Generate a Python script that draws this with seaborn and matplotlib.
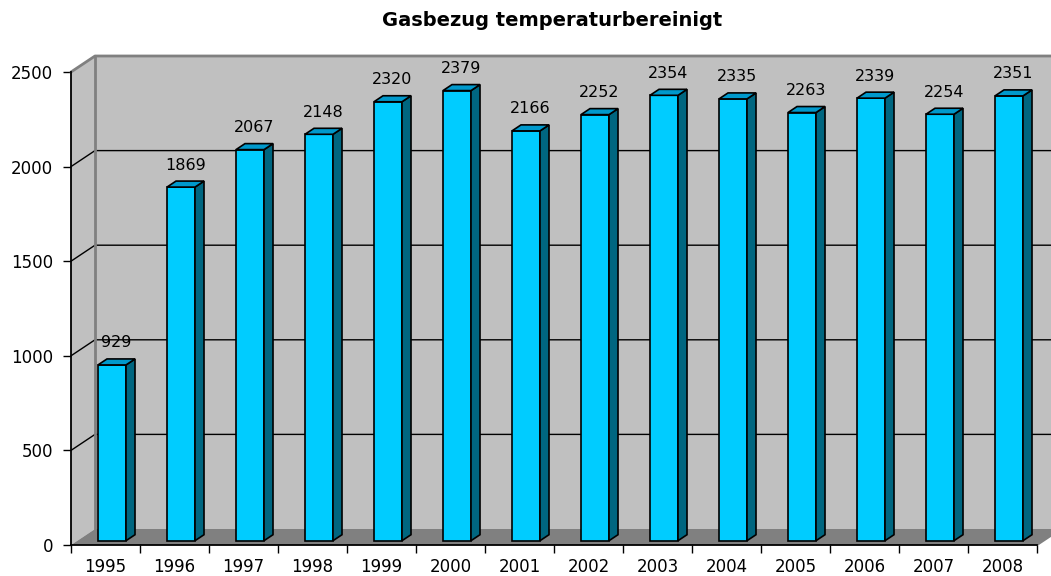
import numpy as np
import matplotlib
matplotlib.use("Agg")
import matplotlib.pyplot as plt
from matplotlib.patches import Polygon
from matplotlib.transforms import IdentityTransform, offset_copy
import seaborn as sns

years = ["1995", "1996", "1997", "1998", "1999", "2000", "2001",
         "2002", "2003", "2004", "2005", "2006", "2007", "2008"]
values = [929, 1869, 2067, 2148, 2320, 2379, 2166,
          2252, 2354, 2335, 2263, 2339, 2254, 2351]
y_ticks = [0, 500, 1000, 1500, 2000, 2500]
title = "Gasbezug temperaturbereinigt"

# Excel-like 3D look (pixel offsets)
WALL_DX, WALL_DY = 24, 16
BAR_FX, BAR_FY = 6.5, 4.3     # bar front face shift into the depth
BAR_DX, BAR_DY = 9, 6         # bar depth
FRONT = "#00CCFF"
SIDE = "#006680"
TOP = "#0099CC"
WALL = "#C0C0C0"
FLOOR = "#808080"
EDGE = "#808080"

sns.set_style("white")
plt.rcParams["font.family"] = ["DejaVu Sans"]
plt.rcParams["text.color"] = "black"

fig = plt.figure(figsize=(10.51, 5.76), dpi=100)
ax = fig.add_axes([71 / 1051, 31 / 576, 966 / 1051, 473 / 576])
ax.patch.set_visible(False)

n = len(years)
sns.barplot(x=years, y=values, color=FRONT, saturation=1, width=0.406,
            edgecolor="black", linewidth=1.2, ax=ax, zorder=3)
ax.set_xlim(-0.5, n - 0.5)
ax.set_ylim(0, y_ticks[-1])

ident = IdentityTransform()


def disp(x, y, dx=0.0, dy=0.0):
    px, py = ax.transData.transform((x, y))
    return (px + dx, py + dy)


x0, x1 = -0.5, n - 0.5
ytop = y_ticks[-1]

# walls and floor
left_wall = [disp(x0, 0), disp(x0, ytop), disp(x0, ytop, WALL_DX, WALL_DY), disp(x0, 0, WALL_DX, WALL_DY)]
back_wall = [disp(x0, 0, WALL_DX, WALL_DY), disp(x0, ytop, WALL_DX, WALL_DY),
             disp(x1, ytop, WALL_DX, WALL_DY), disp(x1, 0, WALL_DX, WALL_DY)]
floor = [disp(x0, 0), disp(x1, 0), disp(x1, 0, WALL_DX, WALL_DY), disp(x0, 0, WALL_DX, WALL_DY)]
for pts, col in [(back_wall, WALL), (left_wall, WALL), (floor, FLOOR)]:
    ax.add_patch(Polygon(pts, closed=True, facecolor=col, edgecolor="none",
                         transform=ident, clip_on=False, zorder=0.5))

# gridlines
for v in y_ticks[1:-1]:
    pts = np.array([disp(x0, v), disp(x0, v, WALL_DX, WALL_DY), disp(x1, v, WALL_DX, WALL_DY)])
    ax.plot(pts[:, 0], pts[:, 1], color="black", lw=1, transform=ident,
            clip_on=False, zorder=0.8)

# wall edges
pts = np.array([disp(x0, ytop), disp(x0, ytop, WALL_DX, WALL_DY), disp(x1, ytop, WALL_DX, WALL_DY)])
ax.plot(pts[:, 0], pts[:, 1], color=EDGE, lw=2, transform=ident, clip_on=False, zorder=0.9)
pts = np.array([disp(x0, 0, WALL_DX, WALL_DY), disp(x0, ytop, WALL_DX, WALL_DY)])
ax.plot(pts[:, 0], pts[:, 1], color=EDGE, lw=2, transform=ident, clip_on=False, zorder=0.9)
pts = np.array([disp(x1, 0), disp(x1, 0, WALL_DX, WALL_DY)])
ax.plot(pts[:, 0], pts[:, 1], color=EDGE, lw=1.5, transform=ident, clip_on=False, zorder=0.9)

# bars: shift front faces into depth, add side and top faces
shift = offset_copy(ax.transData, fig=fig, x=BAR_FX, y=BAR_FY, units="dots")
for p in list(ax.containers[0]):
    p.set_transform(shift)
    bx, bw, bh = p.get_x(), p.get_width(), p.get_height()
    fr = disp(bx + bw, 0, BAR_FX, BAR_FY)
    tl = disp(bx, bh, BAR_FX, BAR_FY)
    tr = disp(bx + bw, bh, BAR_FX, BAR_FY)
    side = [fr, tr, (tr[0] + BAR_DX, tr[1] + BAR_DY), (fr[0] + BAR_DX, fr[1] + BAR_DY)]
    top = [tl, tr, (tr[0] + BAR_DX, tr[1] + BAR_DY), (tl[0] + BAR_DX, tl[1] + BAR_DY)]
    ax.add_patch(Polygon(side, closed=True, facecolor=SIDE, edgecolor="black",
                         lw=1.2, transform=ident, clip_on=False, zorder=3))
    ax.add_patch(Polygon(top, closed=True, facecolor=TOP, edgecolor="black",
                         lw=1.2, transform=ident, clip_on=False, zorder=3))

# value labels
for i, v in enumerate(values):
    ax.annotate(str(v), xy=(i, v), xytext=(BAR_FX + BAR_DX / 2, BAR_FY + 22),
                textcoords="offset pixels", ha="center", va="center",
                fontsize=11.5, color="black", zorder=5, annotation_clip=False)

# axes
for s in ["top", "right"]:
    ax.spines[s].set_visible(False)
for s in ["left", "bottom"]:
    ax.spines[s].set_color("black")
    ax.spines[s].set_linewidth(1.3)
    ax.spines[s].set_zorder(4)

ax.set_yticks(y_ticks)
ax.set_yticklabels([str(t) for t in y_ticks], fontsize=12)
ax.tick_params(axis="y", direction="out", length=6, width=1, pad=7, left=True,
               colors="black", labelcolor="black")
ax.set_xticks(range(n))
ax.set_xticklabels(years, fontsize=12)
ax.set_xticks(np.arange(-0.5, n, 1.0), minor=True)
ax.tick_params(axis="x", which="major", length=0, pad=9, labelcolor="black")
ax.tick_params(axis="x", which="minor", direction="out", length=5.5, width=1,
               bottom=True, color="black")
ax.set_xlabel("")
ax.set_ylabel("")
ax.grid(False)

fig.text(552 / 1051, 1 - 20 / 576, title, ha="center", va="center",
         fontsize=14, fontweight="bold", color="black")

fig.savefig("out.png", dpi=100)
